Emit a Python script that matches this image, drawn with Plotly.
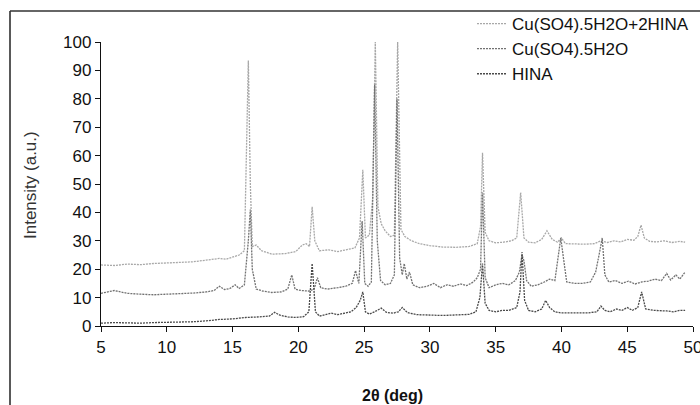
import plotly.graph_objects as go

# ---------------- data ----------------
series_names = ["Cu(SO4).5H2O+2HINA", "Cu(SO4).5H2O", "HINA"]

two_theta_complex = [5, 6, 7, 8, 9, 10, 11, 12, 13, 14,
                     14.5, 15, 15.5, 15.9, 16.05, 16.2, 16.35, 16.5, 16.8, 17.2,
                     18, 19, 19.8, 20.3, 20.6, 20.85, 21.05, 21.25, 21.6, 22.3,
                     23, 23.7, 24.3, 24.65, 24.9, 25.1, 25.4, 25.65, 25.85, 26.05,
                     26.3, 26.6, 27.0, 27.3, 27.55, 27.8, 28.1, 28.6, 29.2, 30,
                     31, 32, 33, 33.6, 33.85, 34.0, 34.2, 34.5, 35, 35.6,
                     36.2, 36.6, 36.9, 37.15, 37.5, 38, 38.5, 38.9, 39.3, 39.7,
                     40.0, 40.3, 41, 41.8, 42.5, 43.0, 43.5, 44, 44.5, 45,
                     45.5, 45.8, 46.05, 46.3, 46.7, 47.2, 47.8, 48.4, 49, 49.4]
intensity_complex = [21.5, 21.3, 21.8, 21.6, 22, 22.2, 22.5, 22.6, 23.2, 23.8,
                     23.5, 24.3, 25, 26.5, 55, 93.5, 50, 28, 28.5, 26.5,
                     25.3, 25.5, 26.2, 28.5, 29, 28, 42, 30, 26.5, 26.8,
                     26.2, 27, 27.5, 31, 55, 31, 32, 45, 100, 42,
                     36, 33.5, 31.5, 32, 100, 34, 31.5, 30, 29, 28.3,
                     27.8, 27.7, 28, 29, 35, 61, 33, 30, 29.3, 29.5,
                     30, 31, 47, 31, 29.5, 29.3, 30.5, 33.5, 30.5, 29.5,
                     31, 29, 28.8, 28.8, 29, 30, 29.4, 30, 29.6, 30.5,
                     30.2, 31.5, 35.5, 31, 29.8, 29.6, 30, 29.4, 29.8, 29.5]

two_theta_cuso4 = [5, 5.5, 6, 6.5, 7, 8, 9, 10, 11, 12,
                   13, 13.6, 14.0, 14.4, 14.8, 15.2, 15.5, 15.9, 16.2, 16.35,
                   16.5, 16.8, 17.3, 18, 18.7, 19.2, 19.5, 19.75, 20.2, 20.8,
                   21.2, 21.45, 21.7, 22.2, 23, 23.6, 24.1, 24.35, 24.6, 24.85,
                   25.05, 25.3, 25.55, 25.8, 26.0, 26.25, 26.6, 27.0, 27.3, 27.5,
                   27.7, 27.9, 28.05, 28.25, 28.45, 28.7, 29.2, 29.8, 30.3, 30.8,
                   31.3, 31.8, 32.3, 32.8, 33.3, 33.6, 33.85, 34.0, 34.2, 34.5,
                   35, 35.5, 36, 36.5, 36.8, 37.0, 37.15, 37.35, 37.7, 38.2,
                   38.7, 39.1, 39.5, 39.75, 39.95, 40.15, 40.4, 41, 41.6, 42.2,
                   42.6, 42.9, 43.1, 43.3, 43.6, 44.1, 44.6, 45.1, 45.6, 46.1,
                   46.6, 47.1, 47.6, 48.0, 48.3, 48.7, 49.0, 49.4]
intensity_cuso4 = [11.5, 12, 12.5, 12, 11.5, 11.2, 11, 11.2, 11.3, 11.6,
                   12, 12.5, 14, 12.8, 13.2, 14.5, 13.2, 14.5, 30, 41,
                   20, 13, 12.3, 11.8, 12, 13, 18, 13, 12.5, 12.3,
                   13, 17, 13.5, 13, 13.5, 14, 15, 19.5, 15, 37,
                   15, 14, 15.5, 85, 30, 16, 14.5, 15, 18, 80,
                   24, 18, 22, 16.5, 19, 14.5, 13.5, 14, 15, 13.5,
                   14.5, 14, 14.8, 14.2, 15.5, 17, 20, 47, 17, 13.5,
                   14.5, 15, 14.5, 16, 19, 25, 23, 16, 14, 14.5,
                   15.5, 16.5, 16, 24, 31, 24, 15.5, 15, 15, 15.5,
                   19, 26, 31, 18, 15.5, 16, 15, 15.8, 14.8, 15.5,
                   15.8, 16.5, 16, 18.5, 16.2, 18, 16.5, 19]

two_theta_hina = [5, 6, 7, 8, 9, 10, 11, 12, 13, 14,
                  15, 16, 17, 17.8, 18.2, 18.6, 19.2, 19.8, 20.4, 20.8,
                  21.05, 21.3, 21.6, 22.0, 22.5, 23.0, 23.5, 24.0, 24.4, 24.7,
                  24.9, 25.1, 25.4, 25.8, 26.3, 26.7, 27.2, 27.6, 27.9, 28.3,
                  29, 30, 31, 32, 33, 33.5, 33.8, 34.0, 34.2, 34.5,
                  35, 35.5, 36, 36.6, 36.85, 37.0, 37.2, 37.5, 38, 38.5,
                  38.8, 39.1, 39.5, 40, 41, 42, 42.7, 43.0, 43.3, 43.7,
                  44.2, 44.6, 45.0, 45.4, 45.8, 46.1, 46.4, 47, 48, 48.5,
                  49, 49.4]
intensity_hina = [1, 1.2, 1.1, 1, 1.2, 1.3, 1.3, 1.5, 1.8, 2.3,
                  2.5, 3, 3.2, 3.5, 4.8, 3.8, 3.2, 3, 3.3, 5,
                  22, 5, 3.5, 4, 4.5, 4, 4.5, 5, 6.5, 9,
                  12, 5, 4.2, 5, 6.3, 4.8, 4.5, 5, 6.5, 4.7,
                  4, 3.8, 3.7, 3.9, 4.1, 5, 10, 22, 8, 5.5,
                  5, 5.5, 5.5, 6.5, 12, 26, 9, 5.5, 5, 6,
                  9, 6.5, 5, 4.6, 4.5, 4.6, 5, 7, 5.5, 5,
                  6, 5.5, 6.5, 5.5, 6.5, 12, 6, 5.5, 5.3, 5,
                  5.5, 5.5]

x_ticks = [5, 10, 15, 20, 25, 30, 35, 40, 45, 50]
y_ticks = [0, 10, 20, 30, 40, 50, 60, 70, 80, 90, 100]

assert len(two_theta_complex) == len(intensity_complex)
assert len(two_theta_cuso4) == len(intensity_cuso4)
assert len(two_theta_hina) == len(intensity_hina)

# ---------------- figure ----------------
FONT = "Liberation Sans, Arial, sans-serif"
W, H = 700, 405
L, R, T, B = 101, 7, 42, 79
pw, ph = W - L - R, H - T - B


def px(xp):
    return (xp - L) / pw


def py(yp):
    return (H - B - yp) / ph


colors = ["#a8a8a8", "#727272", "#4a4a4a"]
xs = [two_theta_complex, two_theta_cuso4, two_theta_hina]
ys = [intensity_complex, intensity_cuso4, intensity_hina]

fig = go.Figure()
for name, x, y, c in zip(series_names, xs, ys, colors):
    fig.add_trace(go.Scatter(x=x, y=y, mode="lines", name=name,
                             line=dict(color=c, width=1.3, dash="2px,1px")))

axis_common = dict(showgrid=False, zeroline=False, showline=True, linecolor="#111",
                   linewidth=1.3, ticks="outside", ticklen=5, tickwidth=1.2,
                   tickcolor="#111", ticklabeloverflow="allow",
                   tickfont=dict(family=FONT, size=17, color="#111"))

fig.update_xaxes(range=[5, 50], tickvals=x_ticks, **axis_common)
fig.update_yaxes(range=[0, 100], tickvals=y_ticks, **axis_common)

fig.update_layout(
    width=W, height=H,
    margin=dict(l=L, r=R, t=T, b=B, pad=0, autoexpand=False),
    paper_bgcolor="white", plot_bgcolor="white",
    font=dict(family=FONT, size=17, color="#111"),
    showlegend=True,
    legend=dict(x=px(472), y=py(6), xanchor="left", yanchor="top",
                bgcolor="rgba(0,0,0,0)", font=dict(family=FONT, size=17, color="#111"),
                itemwidth=30, tracegroupgap=0),
    annotations=[
        dict(text="Intensity (a.u.)", textangle=-90, x=px(30), y=py(185),
             xanchor="center", yanchor="middle",
             xref="paper", yref="paper", showarrow=False,
             font=dict(family=FONT, size=17, color="#333")),
        dict(text="<b>2θ (deg)</b>", x=px(392), y=py(395),
             xanchor="center", yanchor="middle",
             xref="paper", yref="paper", showarrow=False,
             font=dict(family=FONT, size=16, color="#111")),
    ],
    shapes=[
        dict(type="line", xref="paper", yref="paper", x0=px(10), x1=px(10),
             y0=py(11), y1=py(420), line=dict(color="#222", width=1.5)),
        dict(type="line", xref="paper", yref="paper", x0=px(10), x1=px(720),
             y0=py(11), y1=py(11), line=dict(color="#333", width=1.5)),
    ],
)

fig.write_html("out.html")
